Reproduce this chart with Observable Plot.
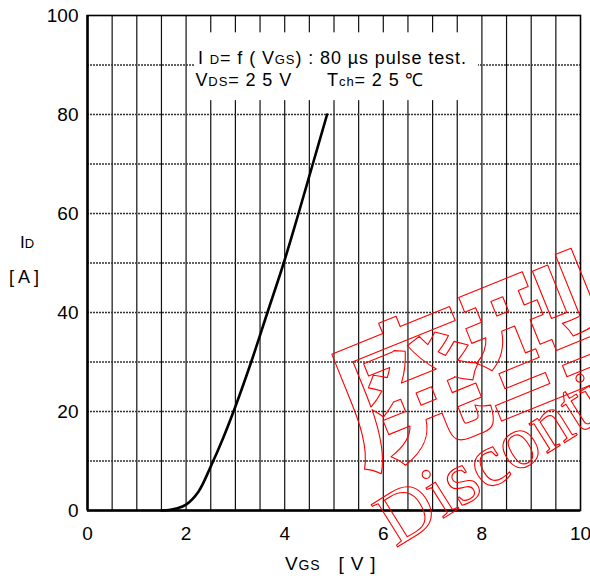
<!DOCTYPE html>
<html>
<head>
<meta charset="utf-8">
<script src="https://cdn.jsdelivr.net/npm/d3@7"></script>
<script src="https://cdn.jsdelivr.net/npm/@observablehq/plot@0.6"></script>
<style>
  html, body { margin: 0; padding: 0; background: white; }
  #chart { width: 590px; height: 576px; }
</style>
</head>
<body>
<div id="chart"></div>
<script>
// ---- data ----
const vgsValues = [1.5, 1.65, 1.8, 2.0, 2.25, 2.5, 2.75, 3.0, 3.32, 3.65, 3.98, 4.28, 4.57, 4.86];
const idValues  = [0,   0.1,  0.4, 1.2, 3.8,  8.9, 14.6, 21,  30,   40,   50,   60,   70,   80];

const xTicks = [0, 2, 4, 6, 8, 10];
const yTicks = [0, 20, 40, 60, 80, 100];
const xGrid = [0.5, 1, 1.5, 2, 2.5, 3, 3.5, 4, 4.5, 5, 5.5, 6, 6.5, 7, 7.5, 8, 8.5, 9, 9.5];
const yGrid = [10, 20, 30, 40, 50, 60, 70, 80, 90];

// annotation box (data units) and watermark texts
const noteBox = [{x1: 2.19, x2: 7.93, y1: 82.8, y2: 96.5}];
const watermarkKanji = [{t: "廃", x: 6.6, y: 23.3}, {t: "型", x: 9.25, y: 33.8}];
const watermarkWord = [{t: "Discontinued", x: 6.25, y: -7.6}];

const data = vgsValues.map((v, i) => ({vgs: v, id: idValues[i]}));

const font = "'Liberation Sans', Arial, Helvetica, sans-serif";

const plot = Plot.plot({
  width: 590,
  height: 576,
  marginLeft: 87,
  marginRight: 10,
  marginTop: 15,
  marginBottom: 66,
  style: {fontFamily: font, fontSize: "19px", background: "white", color: "black", overflow: "hidden"},
  x: {domain: [0, 10], ticks: xTicks, tickSize: 0, tickPadding: 16, label: null},
  y: {domain: [0, 100], ticks: yTicks, tickSize: 0, tickPadding: 9, label: null},
  marks: [
    Plot.ruleX(xGrid, {stroke: "#111", strokeWidth: 1.2}),
    Plot.ruleY(yGrid, {stroke: "#333", strokeWidth: 1.3, strokeDasharray: "2,1"}),
    Plot.rect(noteBox, {x1: "x1", x2: "x2", y1: "y1", y2: "y2", fill: "white"}),
    Plot.frame({stroke: "black", strokeWidth: 1.6}),
    Plot.ruleX([0], {stroke: "black", strokeWidth: 2.5}),
    Plot.ruleY([0], {stroke: "black", strokeWidth: 2.5}),
    Plot.line(data, {x: "vgs", y: "id", curve: "catmull-rom", stroke: "black", strokeWidth: 2.6}),
    Plot.text(watermarkKanji, {x: "x", y: "y", text: "t", rotate: -22, fontSize: 150,
      fontFamily: "'Noto Sans CJK JP', sans-serif", fontWeight: "bold",
      fill: "none", stroke: "#ff0000", strokeWidth: 1.1, textAnchor: "middle", lineAnchor: "middle"}),
    Plot.text(watermarkWord, {x: "x", y: "y", text: "t", rotate: -32, fontSize: 76,
      fontFamily: "'Liberation Serif', 'Times New Roman', serif",
      fill: "none", stroke: "#ff0000", strokeWidth: 1.1, textAnchor: "start", lineAnchor: "bottom"})
  ]
});

document.getElementById("chart").appendChild(plot);

// ---- text with subscripts, positioned through the plot's scales ----
const xs = plot.scale("x").apply;
const ys = plot.scale("y").apply;
const svg = d3.select(plot);

function addText(x, y, parts, opts = {}) {
  const t = svg.append("text")
    .attr("x", x).attr("y", y)
    .attr("font-family", opts.family || font)
    .attr("fill", "black")
    .attr("text-anchor", opts.anchor || "start");
  if (opts.spacing) t.attr("letter-spacing", opts.spacing);
  for (const [s, size] of parts) {
    t.append("tspan").attr("font-size", size).text(s);
  }
  return t;
}

// annotation lines
addText(xs(2.25), ys(90.2), [["I ", 18], ["D", 13], ["= f ( V", 18], ["GS", 13], [") : 80 µs pulse test.", 18]], {spacing: "0.9px"});
addText(xs(2.2), ys(85.6), [["V", 18], ["DS", 13], ["= 2 5 V", 18]], {spacing: "0.9px"});
addText(xs(4.87), ys(85.6), [["T", 18], ["ch", 13], ["= 2 5 ℃", 18]], {spacing: "0.9px"});

// y axis label
addText(20, 248, [["I", 17], ["D", 13]]);
addText(9, 283, [["[ A ]", 18]]);

// x axis label
addText(285, 570, [["V", 19], ["GS", 14], ["   [ V ]", 19]], {spacing: "0.8px"});
</script>
</body>
</html>
